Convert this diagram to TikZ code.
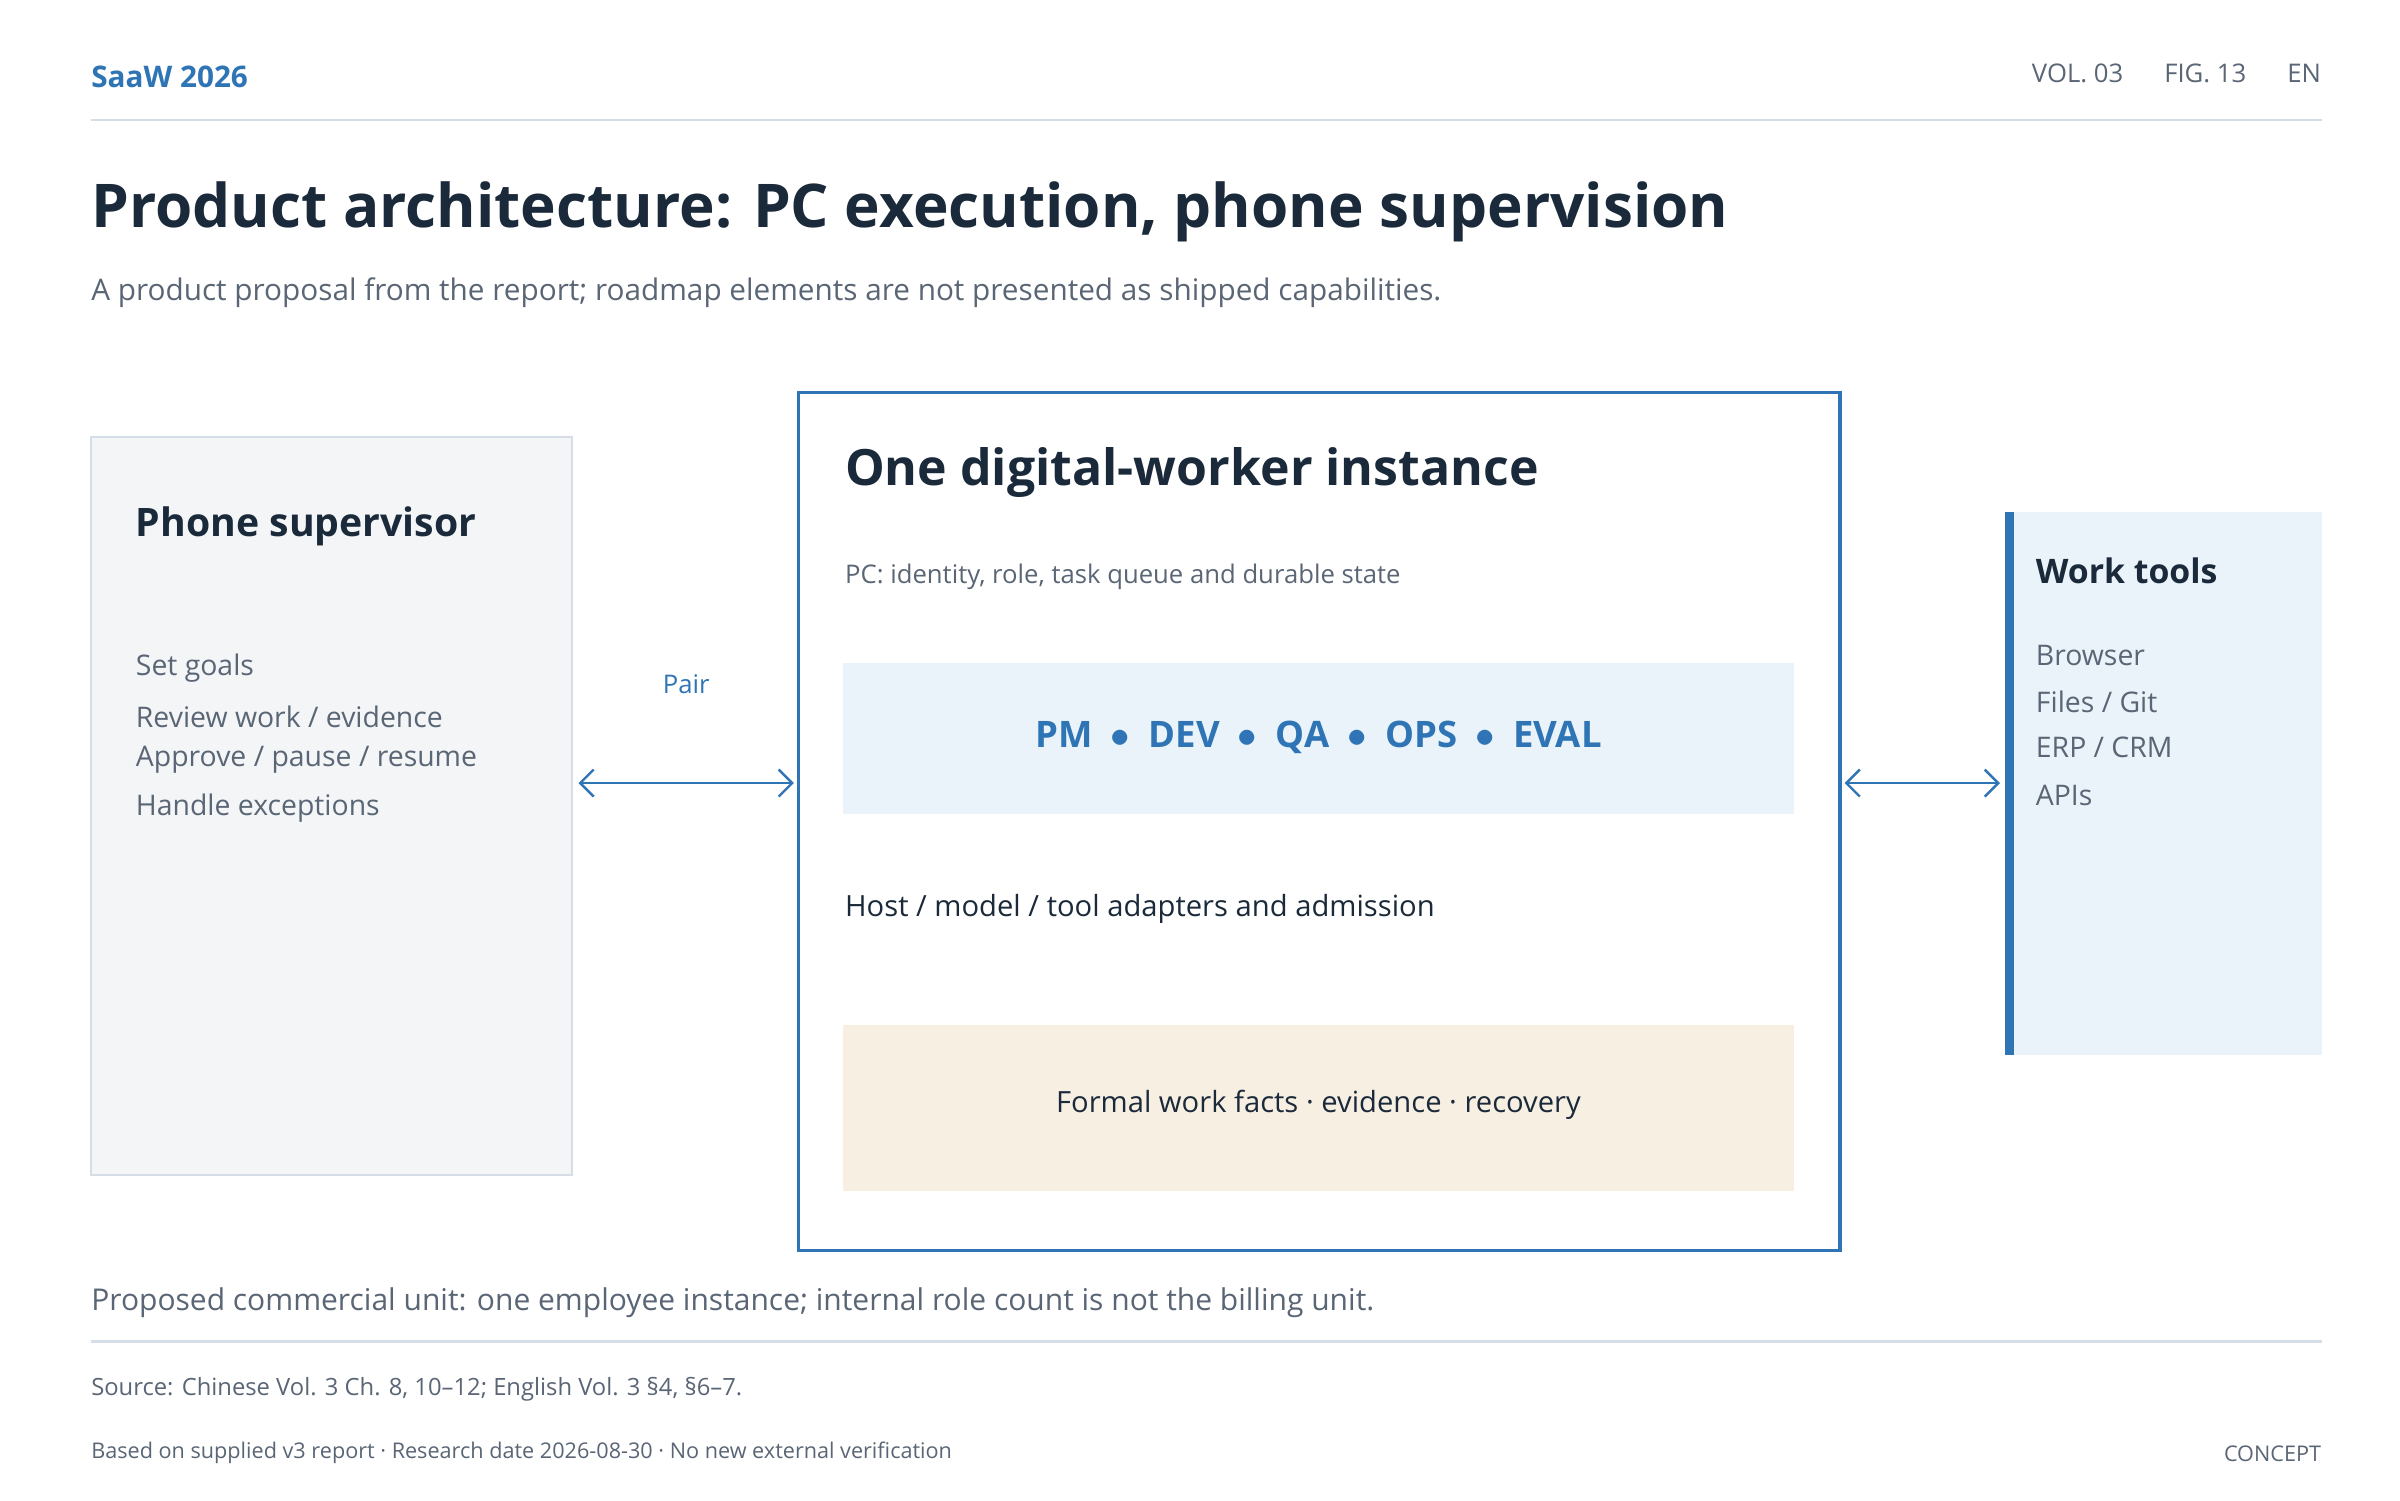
\documentclass[tikz,border=0pt]{standalone}
\usepackage{fontspec}
\setmainfont{Open Sans}
\usetikzlibrary{positioning,arrows.meta}
\definecolor{navy}{HTML}{1B2A3A}
\definecolor{greytxt}{HTML}{5A6675}
\definecolor{accent}{HTML}{2F75B5}
\definecolor{rulec}{HTML}{D5DDE6}
\definecolor{leftfill}{HTML}{F3F5F7}
\definecolor{bluefill}{HTML}{EBF3FA}
\definecolor{beige}{HTML}{F8EFE3}
\tikzset{
  txt/.style={inner sep=0pt,anchor=west},
  item/.style={txt,text=greytxt,font=\fontsize{10.5}{12}\selectfont},
  link/.style={{Straight Barb[length=5pt]}-{Straight Barb[length=5pt]},accent,line width=0.9pt}
}
\begin{document}
\begin{tikzpicture}[x=0.02cm,y=-0.02cm]
                 \useasboundingbox[fill=white] (0,0) rectangle (1560,975);
                 % header
                 \node[txt,text=accent,font=\bfseries\fontsize{11}{13}\selectfont](brand)at(59,50){SaaW 2026};
                 \node[txt,anchor=east,text=greytxt,font=\fontsize{9.5}{11}\selectfont](meta)at(1509,48){VOL. 03\hspace{1.6em}FIG. 13\hspace{1.6em}EN};
                 \draw[rulec,line width=0.8pt] (59,78) -- (1509,78);
                 \node[txt,text=navy,font=\bfseries\fontsize{22.3}{27}\selectfont](title)at(59,138){Product architecture: PC execution, phone supervision};
                 \node[txt,text=greytxt,font=\fontsize{11}{13}\selectfont](sub)at(59,190){A product proposal from the report; roadmap elements are not presented as shipped capabilities.};
                 % phone supervisor
                 \draw[fill=leftfill,draw=rulec,line width=0.8pt] (59,284) rectangle (372,764);
                 \node[txt,text=navy,font=\bfseries\fontsize{14.5}{17}\selectfont](phone)at(88,342){Phone supervisor};
                 \node[item](i1)at(88,434){Set goals};
                 \node[item](i2)at(88,466){Review work / evidence};
                 \node[item](i3)at(88,494){Approve / pause / resume};
                 \node[item](i4)at(88,525){Handle exceptions};
                 \coordinate (pl) at (376,509);
                 \coordinate (pr) at (516,509);
                 \draw[link] (pl) -- (pr);
                 \node[text=accent,inner sep=0pt,font=\fontsize{9.5}{11}\selectfont](pair)at(446,445){Pair};
                 % digital worker instance
                 \draw[draw=accent,fill=white,line width=1.2pt] (519,255) rectangle (1196,813);
                 \node[txt,text=navy,font=\bfseries\fontsize{18.5}{22}\selectfont](inst)at(549,307){One digital-worker instance};
                 \node[txt,text=greytxt,font=\fontsize{9.5}{11}\selectfont](pc)at(549,375){PC: identity, role, task queue and durable state};
                 \fill[bluefill] (548,431) rectangle (1166,529);
                 \node[text=accent,inner sep=0pt,font=\bfseries\fontsize{13.5}{16}\selectfont](roles)at(857,479){PM\enspace$\bullet$\enspace DEV\enspace$\bullet$\enspace QA\enspace$\bullet$\enspace OPS\enspace$\bullet$\enspace EVAL};
                 \node[txt,text=navy,font=\fontsize{10.8}{13}\selectfont](host)at(549,591){Host / model / tool adapters and admission};
                 \fill[beige] (548,666) rectangle (1166,774);
                 \node[text=navy,inner sep=0pt,font=\fontsize{10.8}{13}\selectfont](facts)at(857,718){Formal work facts · evidence · recovery};
                 % work tools
                 \coordinate (wl) at (1199,509);
                 \coordinate (wr) at (1300,509);
                 \draw[link] (wl) -- (wr);
                 \fill[bluefill] (1303,333) rectangle (1509,686);
                 \fill[accent] (1303,333) rectangle (1309,686);
                 \node[txt,text=navy,font=\bfseries\fontsize{12.5}{15}\selectfont](tools)at(1323,371){Work tools};
                 \node[item](t1)at(1323,426){Browser};
                 \node[item](t2)at(1323,456){Files / Git};
                 \node[item](t3)at(1323,486){ERP / CRM};
                 \node[item](t4)at(1323,517){APIs};
                 % footer
                 \node[txt,text=greytxt,font=\fontsize{11.1}{13}\selectfont](unit)at(59,847){Proposed commercial unit: one employee instance; internal role count is not the billing unit.};
                 \draw[rulec,line width=0.8pt] (59,872) -- (1509,872);
                 \node[txt,text=greytxt,font=\fontsize{8.8}{10}\selectfont](src)at(59,903){Source: Chinese Vol. 3 Ch. 8, 10–12; English Vol. 3 §4, §6–7.};
                 \node[txt,text=greytxt,font=\fontsize{8}{10}\selectfont](based)at(59,944){Based on supplied v3 report · Research date 2026-08-30 · No new external verification};
                 \node[txt,anchor=east,text=greytxt,font=\fontsize{8}{10}\selectfont](concept)at(1509,945){CONCEPT};
               \end{tikzpicture}
\end{document}
